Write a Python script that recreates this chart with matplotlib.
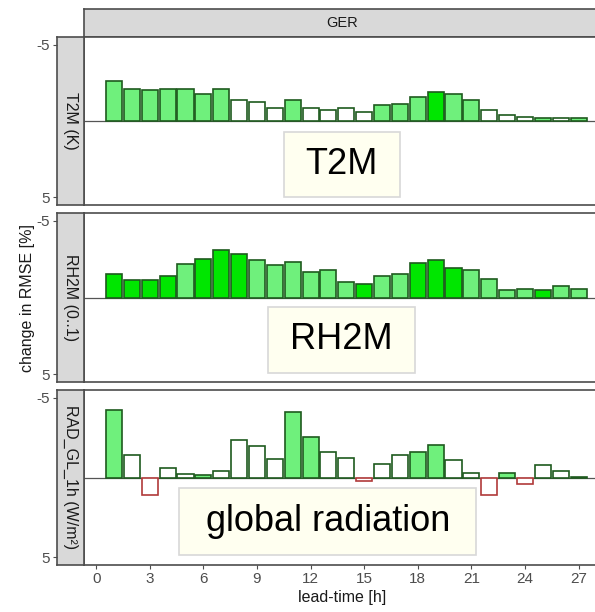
import matplotlib.pyplot as plt
import matplotlib.patches as mpatches

plt.rcParams['font.family'] = ['Liberation Sans', 'DejaVu Sans']

# lead times and RMSE change (negative = improvement, drawn upwards)
lead = list(range(1, 28))

t2m = [-2.65, -2.1, -2.0, -2.1, -2.1, -1.8, -2.1, -1.4, -1.25, -0.86, -1.4, -0.86, -0.7,
       -0.86, -0.6, -1.07, -1.14, -1.6, -1.93, -1.78, -1.35, -0.7, -0.39, -0.28, -0.17,
       -0.21, -0.17]
t2m_sig = ['L', 'L', 'L', 'L', 'L', 'L', 'L', 'N', 'N', 'N', 'L', 'N', 'N', 'N', 'N', 'L',
           'L', 'L', 'S', 'L', 'L', 'N', 'N', 'N', 'L', 'N', 'L']

rh2m = [-1.52, -1.15, -1.15, -1.43, -2.2, -2.52, -3.1, -2.85, -2.46, -2.13, -2.3, -1.65,
        -1.78, -1.04, -0.87, -1.37, -1.52, -2.22, -2.46, -1.91, -1.76, -1.22, -0.5, -0.57,
        -0.5, -0.72, -0.57]
rh2m_sig = ['S', 'S', 'S', 'S', 'L', 'S', 'S', 'S', 'L', 'L', 'L', 'L', 'L', 'L', 'S', 'L',
            'L', 'S', 'S', 'S', 'L', 'L', 'L', 'L', 'S', 'L', 'L']

rad = [-4.26, -1.43, 1.13, -0.57, -0.24, -0.17, -0.39, -2.37, -1.98, -1.17, -4.09, -2.52,
       -1.59, -1.22, 0.2, -0.87, -1.43, -1.59, -2.07, -1.11, -0.3, 1.09, -0.26, 0.41,
       -0.78, -0.39, -0.03]
rad_sig = ['L', 'N', 'N', 'N', 'N', 'L', 'N', 'N', 'N', 'N', 'L', 'L', 'N', 'N', 'N', 'N',
           'N', 'L', 'L', 'N', 'N', 'N', 'L', 'N', 'N', 'N', 'N']

strips = ['T2M (K)', 'RH2M (0..1)', 'RAD_GL_1h (W/m²)']
labels = ['T2M', 'RH2M', 'global radiation']
# label boxes in data units: x0, x1, y0, y1
boxes = [(10.53, 16.98, 0.72, 4.97), (9.62, 17.83, 0.59, 4.9), (4.64, 21.28, 0.65, 4.9)]

fills = {'S': '#00e600', 'L': '#6ff07c', 'N': 'white'}

W, H = 595, 612
fig = plt.figure(figsize=(W / 100, H / 100), dpi=100)

def rect(x0, y0, x1, y1):
    return [x0 / W, 1 - y1 / H, (x1 - x0) / W, (y1 - y0) / H]

# top strip
sax = fig.add_axes(rect(84, 9, 600, 37))
sax.set_facecolor('#d9d9d9')
sax.set_xticks([])
sax.set_yticks([])
for s in sax.spines.values():
    s.set_color('#4d4d4d')
    s.set_linewidth(1.2)
sax.text(0.5, 0.5, 'GER', transform=sax.transAxes, ha='center', va='center',
         fontsize=10.5, color='#1a1a1a')

tops = [(37, 205), (213, 382), (390, 565)]
series = [(t2m, t2m_sig), (rh2m, rh2m_sig), (rad, rad_sig)]
for i, (vals, sig) in enumerate(series):
    y0, y1 = tops[i]
    ax = fig.add_axes(rect(84, y0, 600, y1))
    lax = fig.add_axes(rect(57, y0, 84, y1), sharey=ax)

    cols = [fills[c] for c in sig]
    edges = ['#1e5a1e' if v <= 0 else '#b03a3a' for v in vals]
    ax.bar(lead, vals, width=0.9, color=cols, edgecolor=edges, linewidth=1.2, zorder=3)
    ax.axhline(0, color='#555555', linewidth=0.9, zorder=2)
    ax.set_ylim(5.5, -5.5)
    ax.set_xlim(-0.68, 28.2)
    for s in ax.spines.values():
        s.set_color('#4d4d4d')
        s.set_linewidth(1.2)
    ax.spines['right'].set_visible(False)
    ax.tick_params(axis='y', left=False, labelleft=False)
    ax.set_xticks(range(0, 28, 3))
    if i == 2:
        ax.tick_params(axis='x', length=3, color='#4d4d4d', labelsize=11,
                       labelcolor='#4d4d4d', pad=2)
        ax.set_xlabel('lead-time [h]', fontsize=11.5, color='#1a1a1a', labelpad=3)
    else:
        ax.tick_params(axis='x', bottom=False, labelbottom=False)

    bx0, bx1, by0, by1 = boxes[i]
    ax.add_patch(mpatches.Rectangle((bx0, by0), bx1 - bx0, by1 - by0,
                                    facecolor='#fffff0', edgecolor='#d8d8d8',
                                    linewidth=1.2, zorder=4))
    ax.text((bx0 + bx1) / 2, (by0 + by1) / 2, labels[i], ha='center', va='center',
            fontsize=26, color='black', zorder=5)

    # left strip carrying the y axis
    lax.set_facecolor('#d9d9d9')
    lax.set_xticks([])
    lax.set_yticks([-5, 5])
    lax.set_yticklabels(['-5', '5'])
    lax.tick_params(axis='y', length=3, color='#4d4d4d', labelsize=11,
                    labelcolor='#4d4d4d', pad=2)
    for s in lax.spines.values():
        s.set_color('#4d4d4d')
        s.set_linewidth(1.2)
    lax.text(0.5, 0.5, strips[i], transform=lax.transAxes, ha='center', va='center',
             rotation=-90, fontsize=11.5, color='#1a1a1a')

fig.text(28 / W, 1 - 298 / H, 'change in RMSE [%]', rotation=90, ha='center',
         va='center', fontsize=11.5, color='#1a1a1a')

fig.savefig('out.png', dpi=100)
